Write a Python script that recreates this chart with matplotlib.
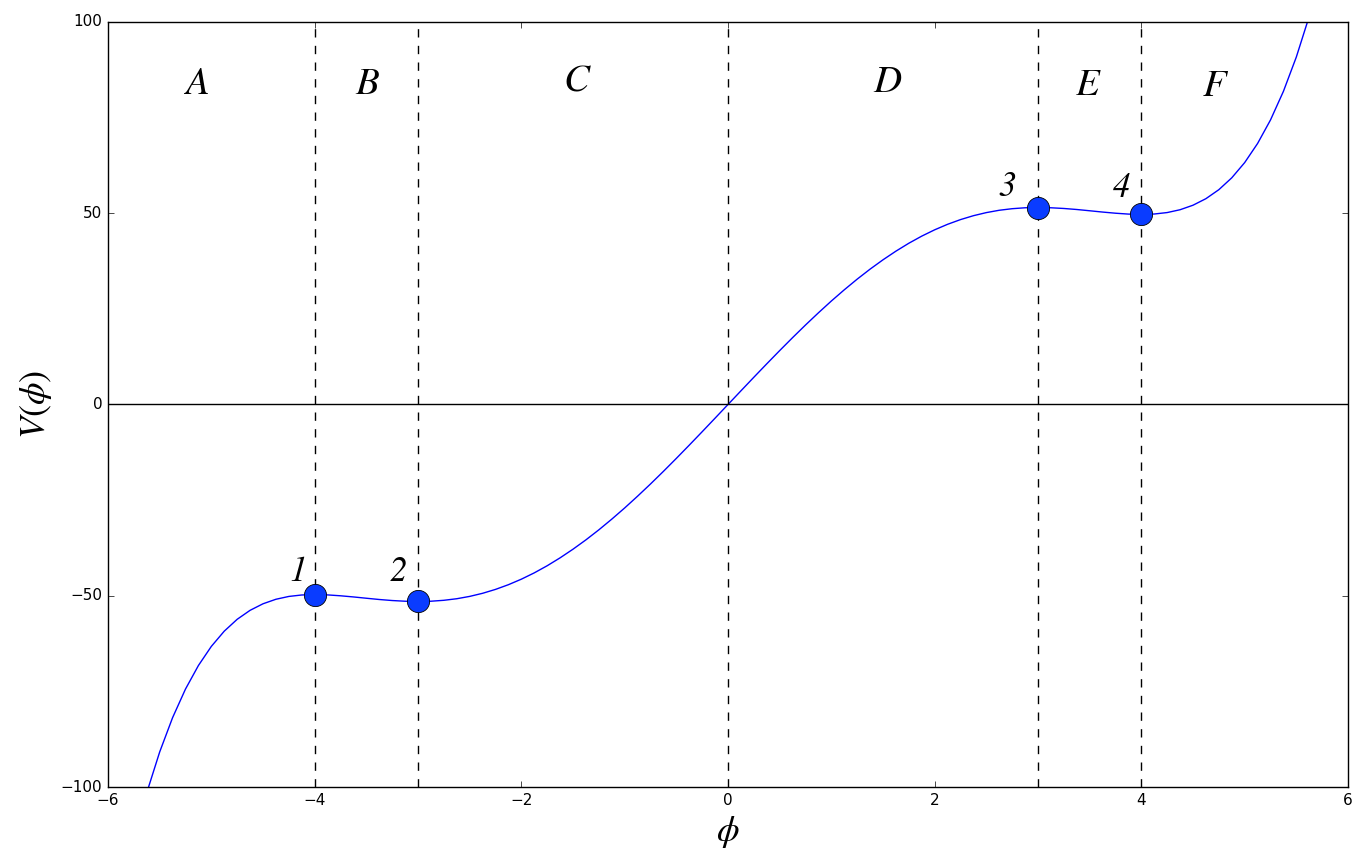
import numpy as np
import matplotlib
matplotlib.use("Agg")
import matplotlib.pyplot as plt

plt.style.use("classic")
plt.rcParams["mathtext.fontset"] = "stix"
plt.rcParams["font.family"] = ["DejaVu Sans"]

# potential V(phi) (odd around phi = 0)
phi_pos = [0.0, 0.125, 0.25, 0.375, 0.5, 0.625, 0.75, 0.875, 1.0, 1.125,
           1.25, 1.375, 1.5, 1.625, 1.75, 1.875, 2.0, 2.125, 2.25, 2.375,
           2.5, 2.625, 2.75, 2.875, 3.0, 3.125, 3.25, 3.375, 3.5, 3.625,
           3.75, 3.875, 4.0, 4.125, 4.25, 4.375, 4.5, 4.625, 4.75, 4.875,
           5.0, 5.125, 5.25, 5.375, 5.5, 5.625, 5.75]
v_pos = [0.0, 3.57, 7.12, 10.63, 14.09, 17.48, 20.78, 23.97, 27.05, 29.98,
         32.77, 35.39, 37.83, 40.09, 42.16, 44.02, 45.67, 47.11, 48.34, 49.36,
         50.17, 50.78, 51.19, 51.43, 51.50, 51.43, 51.25, 50.98, 50.65, 50.31,
         50.01, 49.78, 49.69, 49.80, 50.18, 50.92, 52.10, 53.81, 56.16, 59.26,
         63.24, 68.24, 74.39, 81.87, 90.85, 101.50, 114.04]

phi = [-p for p in phi_pos[:0:-1]] + phi_pos
v = [-x for x in v_pos[:0:-1]] + v_pos

# stationary points
pts_phi = [-4, -3, 3, 4]
pts_v = [-49.69, -51.50, 51.50, 49.69]
pts_lab = ["1", "2", "3", "4"]
pts_lab_xy = [(-4.16, -43.7), (-3.19, -43.7), (2.70, 57.0), (3.81, 56.7)]

# region letters
regions = ["A", "B", "C", "D", "E", "F"]
regions_x = [-5.13, -3.49, -1.47, 1.54, 3.47, 4.71]
regions_y = [83.7, 83.7, 84.2, 84.2, 83.4, 83.1]

vlines = [-4, -3, 0, 3, 4]

fig = plt.figure(figsize=(13.67, 8.57), dpi=100, facecolor="white")
ax = fig.add_axes([108 / 1367, 1 - 787 / 857, 1240 / 1367, 765 / 857])

ax.plot(phi, v, color="blue", lw=1.0, solid_joinstyle="round")
ax.axhline(0, color="black", lw=1.0)
for xv in vlines:
    ax.axvline(xv, color="black", ls="--", lw=1.0)

ax.plot(pts_phi, pts_v, "o", color="#0a3cff", mec="black", mew=0.6, ms=16,
        zorder=5)

for lab, (lx, ly) in zip(pts_lab, pts_lab_xy):
    ax.text(lx, ly, lab, fontsize=25, family="STIXGeneral", style="italic",
            ha="center", va="center")
for lab, rx, ry in zip(regions, regions_x, regions_y):
    ax.text(rx, ry, lab, fontsize=28, family="STIXGeneral", style="italic",
            ha="center", va="center")

ax.set_xlim(-6, 6)
ax.set_ylim(-100, 100)
ax.set_xticks([-6, -4, -2, 0, 2, 4, 6])
ax.set_yticks([-100, -50, 0, 50, 100])
ax.tick_params(labelsize=11)
ax.set_xlabel(r"$\phi$", fontsize=26)
ax.set_ylabel(r"$V(\phi)$", fontsize=26)

fig.savefig("out.png", dpi=100, facecolor="white")
